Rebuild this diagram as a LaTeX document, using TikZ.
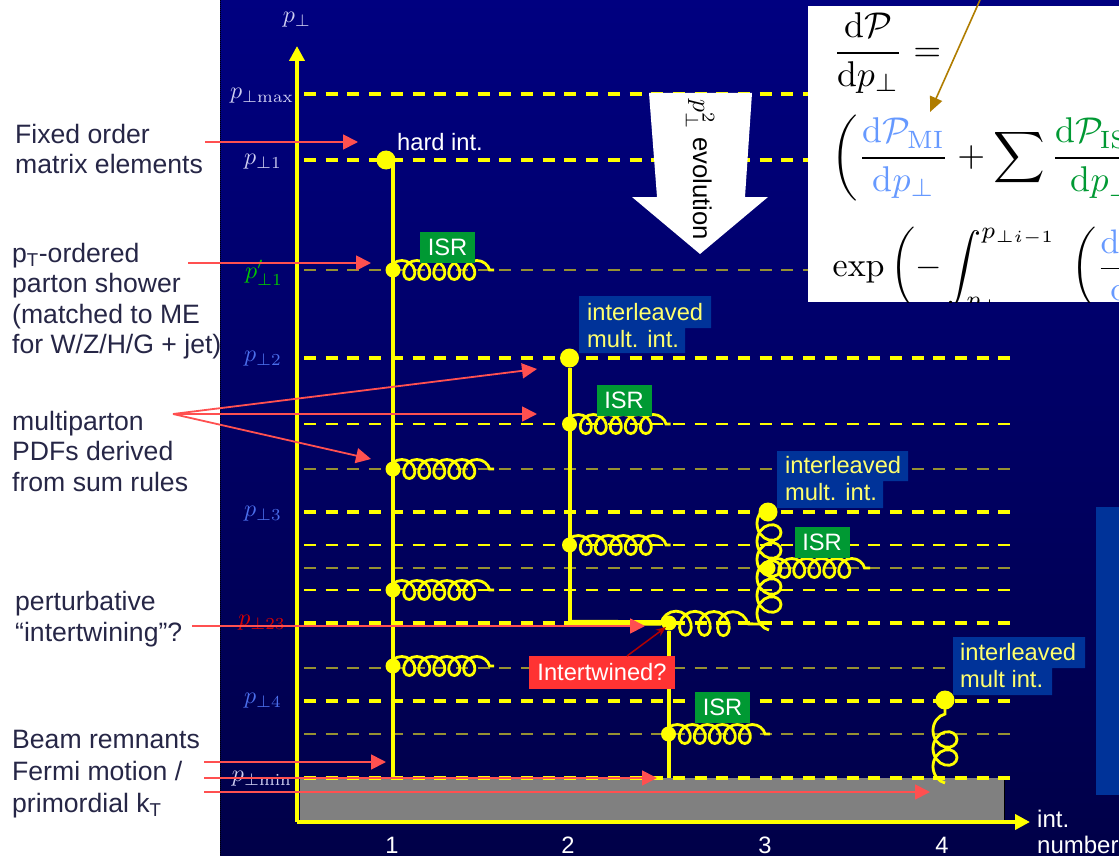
\documentclass[tikz,border=0pt]{standalone}
\usepackage{amsmath,amssymb}
\usepackage{fontspec}
\newfontfamily\arialfont{Liberation Sans}
\usepackage{tikz}
\usetikzlibrary{arrows.meta,decorations.pathmorphing}
\definecolor{navyTop}{RGB}{0,0,128}
\definecolor{navyLow}{RGB}{0,0,72}
\definecolor{sideInk}{RGB}{38,38,70}
\definecolor{lineY}{RGB}{255,255,0}
\definecolor{oliveY}{RGB}{150,145,50}
\definecolor{arrowR}{RGB}{255,80,80}
\definecolor{isrG}{RGB}{0,153,51}
\definecolor{intB}{RGB}{0,51,153}
\definecolor{miBlue}{RGB}{102,153,255}
\definecolor{goldArrow}{RGB}{176,125,0}
\definecolor{scaleW}{RGB}{205,205,240}
\definecolor{scaleB}{RGB}{75,110,235}
\definecolor{scaleG}{RGB}{0,200,0}
\definecolor{tagR}{RGB}{255,51,51}
\definecolor{ilvY}{RGB}{255,255,110}
\begin{document}
\begin{tikzpicture}[x=1pt, y=-1pt, >={Triangle[length=15pt,width=15pt]},
  side/.style={anchor=west, align=left, text=sideInk, font=\arialfont\fontsize{26.6}{30.5}\selectfont, inner sep=0pt},
  rline/.style={->, draw=arrowR, line width=1.8pt},
  hard/.style={draw=lineY, line width=4pt, dash pattern=on 12pt off 9.7pt},
  soft/.style={draw=oliveY, line width=1.8pt, dash pattern=on 12pt off 9.7pt},
  softY/.style={draw=lineY, line width=1.4pt, dash pattern=on 12pt off 9.7pt},
  quark/.style={draw=lineY, line width=4pt},
  gluon/.style={draw=lineY, line width=2.8pt, decorate, decoration={coil, amplitude=9.5pt, segment length=15pt, aspect=0.95, post length=0pt}},
  gluonB/.style={gluon, decoration={coil, amplitude=12pt, segment length=19pt, aspect=0.85, post length=0pt}},
  gluonC/.style={gluon, decoration={coil, amplitude=12pt, segment length=18pt, aspect=1, post length=0pt}},
  vtx/.style={circle, fill=lineY, inner sep=0pt, minimum size=15pt},
  bigvtx/.style={circle, fill=lineY, inner sep=0pt, minimum size=19pt},
  isr/.style={fill=isrG, text=white, minimum width=55pt, minimum height=31pt, inner sep=0pt, font=\arialfont\fontsize{23.7}{26}\selectfont},
  ilv/.style={anchor=north west, align=left, text=ilvY, inner sep=0pt, font=\arialfont\fontsize{23.7}{27}\selectfont},
  ilvbox/.style={fill=intB},
  scl/.style={scale=2.4, inner sep=0pt},
  tick/.style={text=white, font=\arialfont\fontsize{23.7}{26}\selectfont, inner sep=0pt},
  eq/.style={anchor=west, inner sep=0pt, scale=3.58}]
  \useasboundingbox (0,0) rectangle (1119,856);
  \shade[top color=navyTop, bottom color=navyLow] (220,0) rectangle (1119,856);
  \draw[black, line width=1pt, densely dotted] (220,0) -- (220,856);
  \fill[intB] (1096,507) rectangle (1119,795);
  % remnant block
  \fill[gray] (300,778) rectangle (1004,820);
  \draw[black, line width=1pt] (1004,778) -- (1004,820);
  % scale levels
  \draw[hard] (304,94) -- (1012,94);
  \draw[hard] (304,160) -- (1012,160);
  \draw[soft] (304,270) -- (1012,270);
  \draw[hard] (304,358) -- (1012,358);
  \draw[softY] (304,424) -- (1012,424);
  \draw[soft] (304,469) -- (1012,469);
  \draw[hard] (304,512) -- (1012,512);
  \draw[softY] (304,545) -- (1012,545);
  \draw[soft] (304,568) -- (1012,568);
  \draw[softY] (304,590) -- (1012,590);
  \draw[hard] (304,623) -- (1012,623);
  \draw[soft] (304,668) -- (1012,668);
  \draw[hard] (304,701) -- (1012,701);
  \draw[soft] (304,734) -- (1012,734);
  \draw[hard] (304,778) -- (1012,778);
  % axes
  \coordinate (orig) at (297,822);
  \coordinate (ytop) at (297,46);
  \coordinate (xend) at (1030,822);
  \draw[quark, ->] (orig) -- (ytop);
  \draw[quark, ->] (orig) -- (xend);
  % vertices
  \node[bigvtx] (hard1) at (386,160) {};
  \node[bigvtx] (mi2) at (569.5,358) {};
  \node[bigvtx] (mi3) at (768,512) {};
  \node[bigvtx] (mi4) at (945,700) {};
  \node[vtx] (a1) at (393,270) {};
  \node[vtx] (a2) at (393,469) {};
  \node[vtx] (a3) at (393,590) {};
  \node[vtx] (a4) at (393,666) {};
  \node[vtx] (b1) at (569.5,424) {};
  \node[vtx] (b2) at (569.5,545) {};
  \node[vtx] (c1) at (668.5,734) {};
  \node[vtx] (d1) at (768,568) {};
  \node[vtx] (twist) at (669,623) {};
  \coordinate (e1) at (494,270);
  \coordinate (e2) at (494,469);
  \coordinate (e3) at (494,590);
  \coordinate (e4) at (494,666);
  \coordinate (e5) at (670.5,424);
  \coordinate (e6) at (670.5,545);
  \coordinate (e7) at (770,734);
  \coordinate (e8) at (870,568);
  \coordinate (top1) at (392.5,160);
  \coordinate (low1) at (392.5,778);
  \coordinate (low2) at (669,778);
  \coordinate (low4) at (945,783);
  \coordinate (top4) at (945,697);
  \coordinate (corner) at (569.5,622.5);
  \coordinate (bend) at (764,624);
  \coordinate (bendup) at (769,630);
  \coordinate (top3) at (769,507);
  % quark lines
  \draw[quark] (top1) -- (low1);
  \draw[quark] (mi2) -- (corner);
  \draw[quark, line width=5.5pt] (corner) -- (twist);
  \draw[quark] (twist) -- (low2);
  % gluons
  \draw[gluon] (a1.center) ++(-4,0) -- (e1);
  \draw[gluon] (a2.center) ++(-4,0) -- (e2);
  \draw[gluon] (a3.center) ++(-4,0) -- (e3);
  \draw[gluon] (a4.center) ++(-4,0) -- (e4);
  \draw[gluon] (b1.center) ++(-4,0) -- (e5);
  \draw[gluon] (b2.center) ++(-4,0) -- (e6);
  \draw[gluon] (c1.center) ++(-4,0) -- (e7);
  \draw[gluon] (d1.center) ++(-4,0) -- (e8);
  \draw[gluonB] (twist.center) ++(-8,0) -- (bend);
  \draw[gluonC] (bendup) -- (top3);
  \draw[gluonC] (low4) -- (top4);
  % labels
  \node[isr] (isr1) at (447.5,247) {ISR};
  \node[isr] (isr2) at (624,400.5) {ISR};
  \node[isr] (isr3) at (822,542.5) {ISR};
  \node[isr] (isr4) at (722.5,707) {ISR};
  \fill[ilvbox] (579,296) -- (711,296) -- (711,328) -- (685,328) -- (685,353) -- (579,353) -- cycle;
  \fill[ilvbox] (777,451) -- (908,451) -- (908,481) -- (883,481) -- (883,508) -- (777,508) -- cycle;
  \fill[ilvbox] (953,637) -- (1085,637) -- (1085,668) -- (1052,668) -- (1052,695) -- (953,695) -- cycle;
  \node[ilv] (int1) at (587,303) {interleaved\\mult. int.};
  \node[ilv] (int2) at (785,456) {interleaved\\mult. int.};
  \node[ilv] (int3) at (960,643) {interleaved\\mult int.};
  \node[text=white, inner sep=0pt, font=\arialfont\fontsize{23.7}{26}\selectfont] (hardlab) at (440,142) {hard int.};
  \node[scl, text=scaleW] (pT) at (297,20) {$p_\perp$};
  \node[scl, text=scaleW] (pmax) at (262,96) {$p_{\perp\mathrm{max}}$};
  \node[scl, text=scaleW] (p1) at (263,162) {$p_{\perp 1}$};
  \node[scl, text=scaleG] (p1p) at (264,273) {$p'_{\perp 1}$};
  \node[scl, text=scaleB] (p2) at (263,359) {$p_{\perp 2}$};
  \node[scl, text=scaleB] (p3) at (263,514) {$p_{\perp 3}$};
  \node[scl, text=red!85!black] (p23) at (262,623) {$p_{\perp 23}$};
  \node[scl, text=scaleB] (p4) at (263,701) {$p_{\perp 4}$};
  \node[scl, text=scaleW] (pmin) at (262,779) {$p_{\perp\mathrm{min}}$};
  \node[tick] (n1) at (392,845) {1};
  \node[tick] (n2) at (568,845) {2};
  \node[tick] (n3) at (765,845) {3};
  \node[tick] (n4) at (942,845) {4};
  \node[anchor=north west, align=left, text=white, inner sep=0pt, font=\arialfont\fontsize{24}{26}\selectfont] (intnum) at (1037,810) {int.\\number};
  % evolution arrow
  \fill[white] (649,93) -- (752,93) -- (745,197) -- (768,197) -- (700,254) -- (632,197) -- (657,197) -- cycle;
  \node[rotate=-90, text=black, inner sep=0pt, scale=2.57, font=\arialfont] (evol) at (700,170) {$p_\perp^2$ evolution};
  % side notes
  \node[side] (fixed) at (15,149) {Fixed order\\matrix elements};
  \node[side] (ptord) at (12,301) {p\textsubscript{T}-ordered\\parton shower\\(matched to ME\\for W/Z/H/G + jet)};
  \node[side] (multi) at (12,451) {multiparton\\PDFs derived\\from sum rules};
  \node[side] (pert) at (15,619) {perturbative\\“intertwining”?};
  \node[side, font=\arialfont\fontsize{26.6}{32}\selectfont] (beam) at (12,774) {Beam remnants\\Fermi motion /\\primordial k\textsubscript{T}};
  % red arrows
  \coordinate (r1a) at (205,142); \coordinate (r1b) at (358,142);
  \coordinate (r2a) at (188,263); \coordinate (r2b) at (371,263);
  \coordinate (r3a) at (173,414);
  \coordinate (r3b) at (537,369); \coordinate (r3c) at (537,414); \coordinate (r3d) at (371,459);
  \coordinate (r4a) at (192,626); \coordinate (r4b) at (645,626);
  \coordinate (r5a) at (204,762); \coordinate (r5b) at (386,762);
  \coordinate (r6a) at (204,778); \coordinate (r6b) at (657,778);
  \coordinate (r7a) at (204,792); \coordinate (r7b) at (930,792);
  \draw[rline] (r1a) -- (r1b);
  \draw[rline] (r2a) -- (r2b);
  \draw[rline] (r3a) -- (r3b);
  \draw[rline] (r3a) -- (r3c);
  \draw[rline] (r3a) -- (r3d);
  \draw[rline] (r4a) -- (r4b);
  \draw[rline] (r5a) -- (r5b);
  \draw[rline] (r6a) -- (r6b);
  \draw[rline] (r7a) -- (r7b);
  % intertwined tag
  \node[fill=tagR, text=white, minimum width=146pt, minimum height=33pt, inner sep=0pt, font=\arialfont\fontsize{23.7}{26}\selectfont] (tag) at (602,672.5) {Intertwined?};
  \coordinate (tagto) at (666,627);
  \coordinate (tagfrom) at (627,656);
  \draw[-{Stealth[length=10pt,width=8pt]}, draw=red!70!black, line width=1.5pt] (tagfrom) -- (tagto);
  % formula card
  \begin{scope}
    \clip (808,6) rectangle (1119,302);
    \fill[white] (808,6) rectangle (1119,302);
    \node[eq] (eqa) at (832,53) {$\dfrac{\mathrm{d}\mathcal{P}}{\mathrm{d}p_\perp} =$};
    \node[eq] (eqb) at (831,158) {$\left(\dfrac{\color{miBlue}\mathrm{d}\mathcal{P}_{\mathrm{MI}}}{\color{miBlue}\mathrm{d}p_\perp}+\displaystyle\sum\dfrac{\color{isrG}\mathrm{d}\mathcal{P}_{\mathrm{ISR}}}{\color{isrG}\mathrm{d}p_\perp}\right)$};
    \node[eq, scale=0.95] (eqc) at (832,270) {$\exp\left(-\displaystyle\int_{p_\perp}^{p_{\perp i-1}}\;\left(\dfrac{\color{miBlue}\mathrm{d}\mathcal{P}_{\mathrm{MI}}}{\color{miBlue}\mathrm{d}p_\perp}\right)\right)$};
  \end{scope}
  \coordinate (goldA) at (980,0);
  \coordinate (goldB) at (930,112);
  \draw[-{Triangle[length=15pt,width=13pt]}, draw=goldArrow, line width=1.6pt] (goldA) -- (goldB);
\end{tikzpicture}
\end{document}
